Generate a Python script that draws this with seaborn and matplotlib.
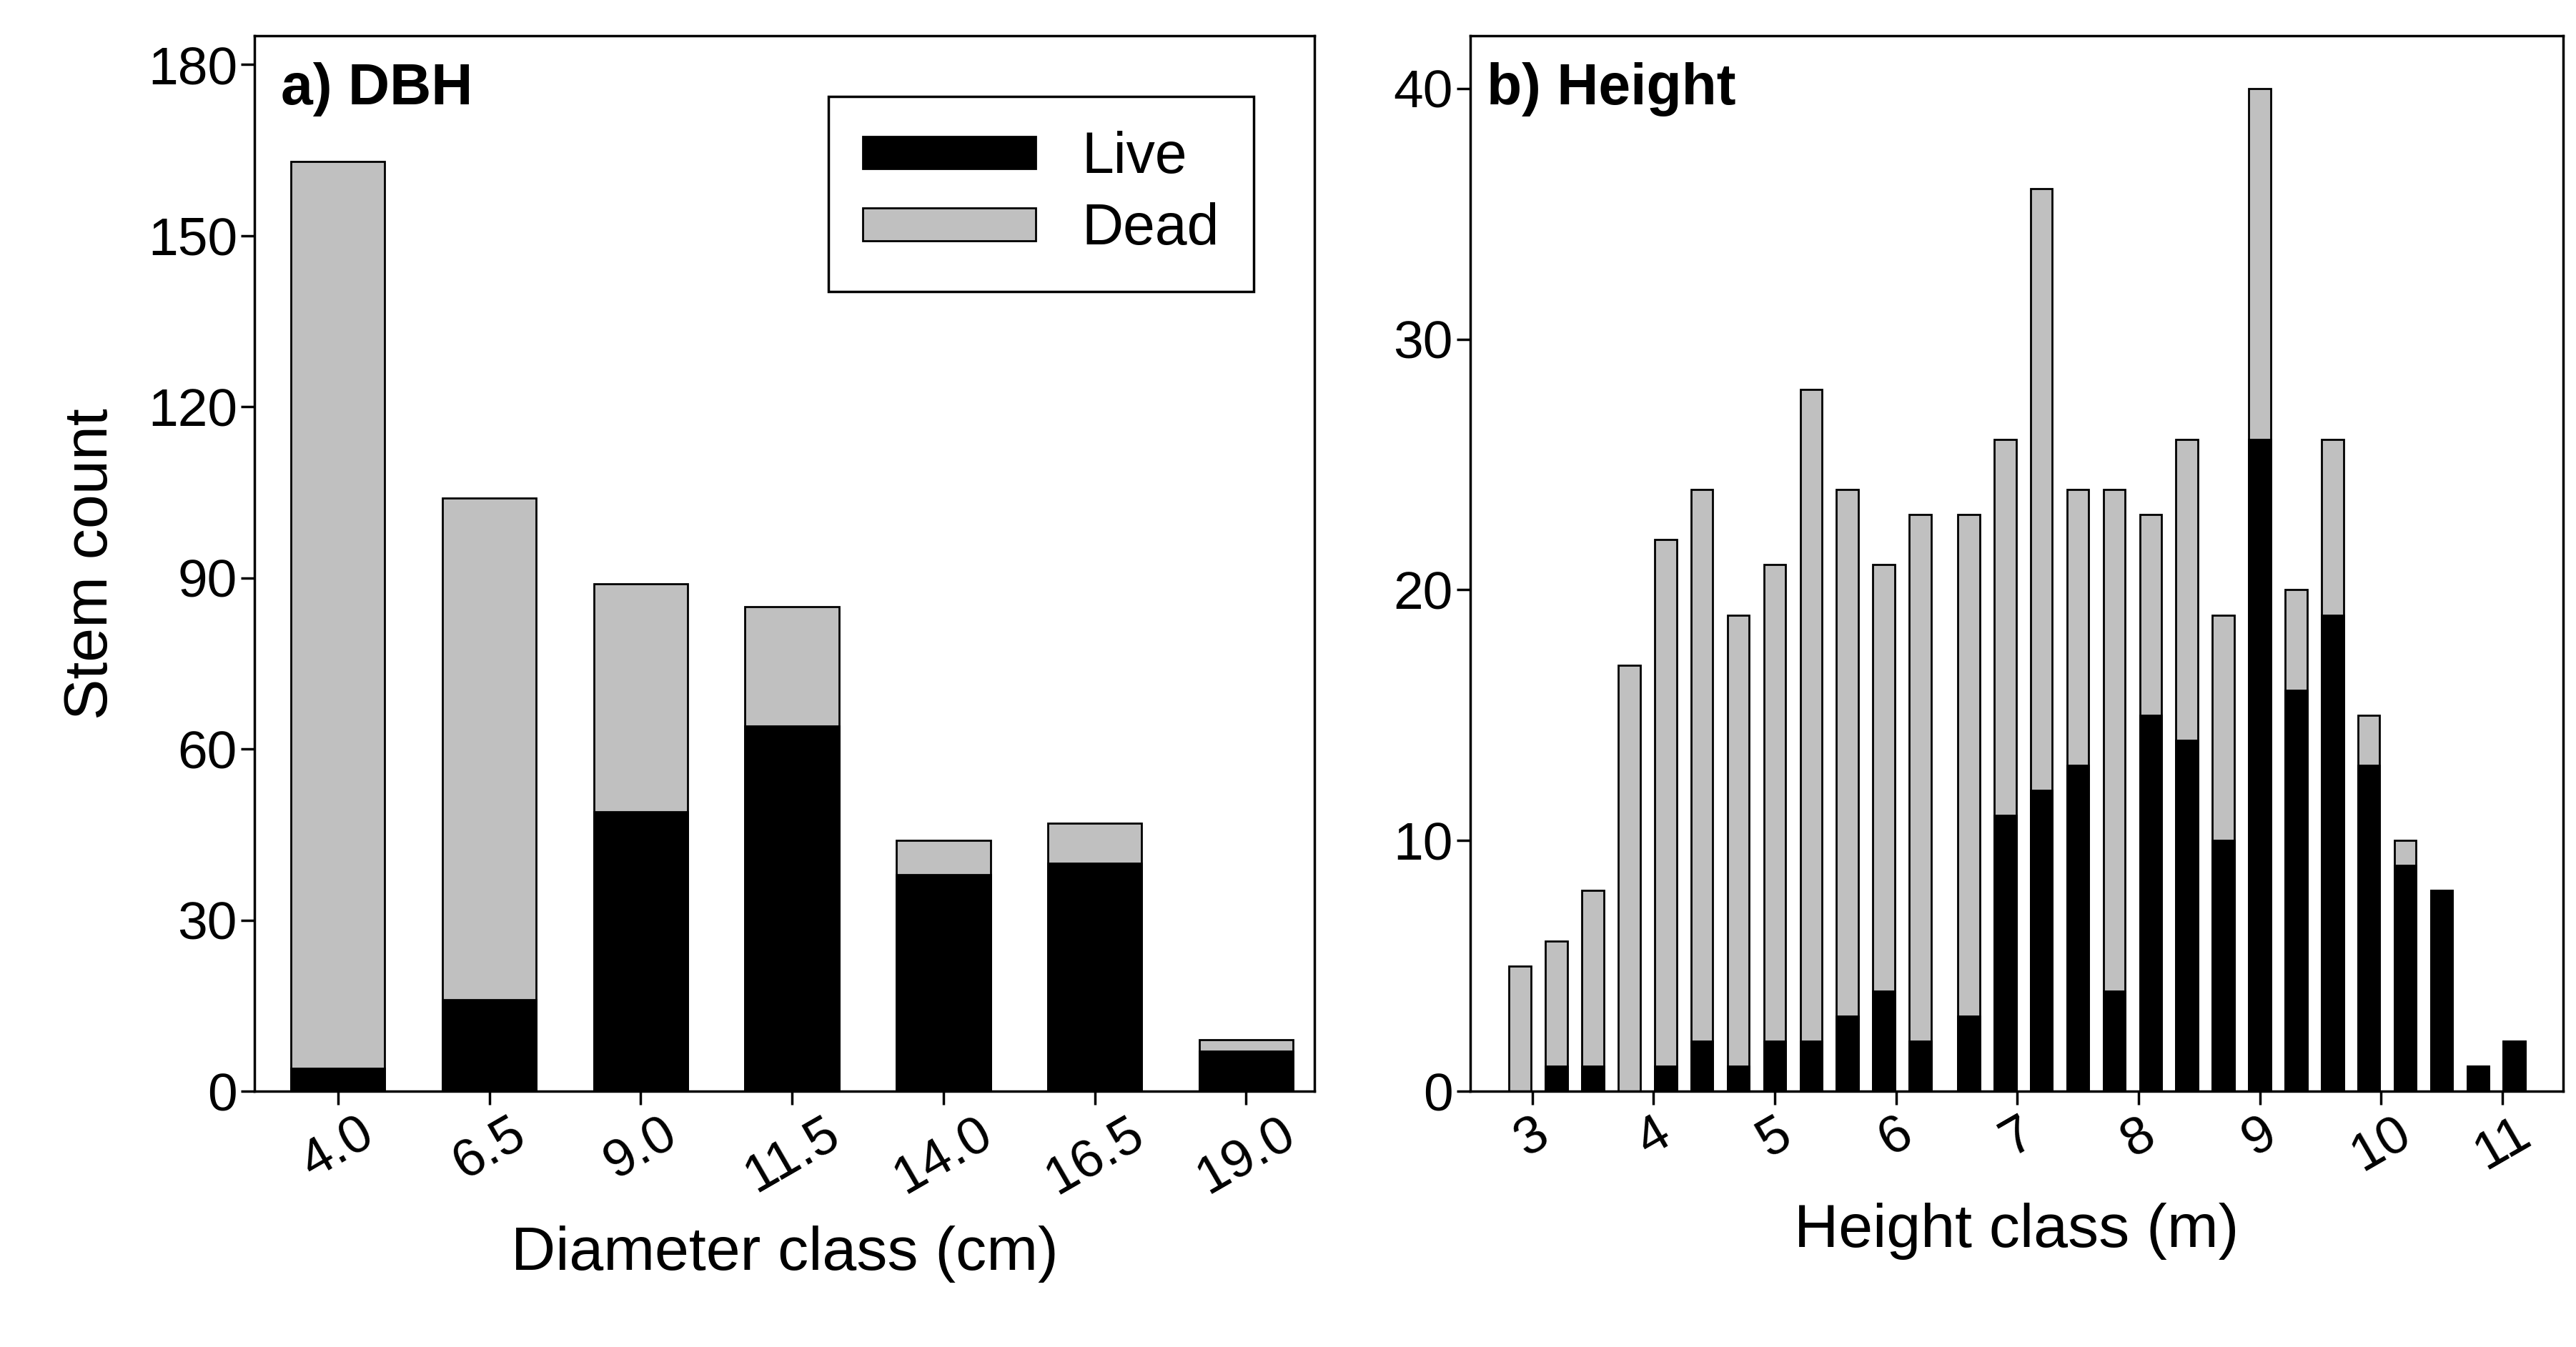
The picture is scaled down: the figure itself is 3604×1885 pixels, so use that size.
import matplotlib
matplotlib.use("Agg")
import matplotlib.pyplot as plt
import seaborn as sns
import pandas as pd

# panel a) DBH
dbh_class = ["4.0", "6.5", "9.0", "11.5", "14.0", "16.5", "19.0"]
dbh_total = [163, 104, 89, 85, 44, 47, 9]
dbh_live = [4, 16, 49, 64, 38, 40, 7]

# panel b) Height
ht_class = [2.9, 3.2, 3.5, 3.8, 4.1, 4.4, 4.7, 5.0, 5.3, 5.6, 5.9, 6.2, 6.6, 6.9,
            7.2, 7.5, 7.8, 8.1, 8.4, 8.7, 9.0, 9.3, 9.6, 9.9, 10.2, 10.5, 10.8, 11.1]
ht_total = [5, 6, 8, 17, 22, 24, 19, 21, 28, 24, 21, 23, 23, 26,
            36, 24, 24, 23, 26, 19, 40, 20, 26, 15, 10, 8, 1, 2]
ht_live = [0, 1, 1, 0, 1, 2, 1, 2, 2, 3, 4, 2, 3, 11,
           12, 13, 4, 15, 14, 10, 26, 16, 19, 13, 9, 8, 1, 2]

sns.set_theme(style="ticks")
plt.rcParams['font.family'] = ['Liberation Sans', 'DejaVu Sans']
plt.rcParams['text.color'] = 'black'
plt.rcParams['axes.labelcolor'] = 'black'
plt.rcParams['xtick.color'] = 'black'
plt.rcParams['ytick.color'] = 'black'
DEAD = "#c0c0c0"

fig = plt.figure(figsize=(36.04, 18.85), dpi=100)
ax1 = fig.add_axes([155/1568, 1 - 670/827, 645/1568, 648/827])
ax2 = fig.add_axes([895/1568, 1 - 670/827, 665/1568, 648/827])

df_a = pd.DataFrame({"cls": dbh_class, "total": dbh_total, "live": dbh_live})
sns.barplot(df_a, x="cls", y="total", ax=ax1, color=DEAD, edgecolor="black",
            linewidth=2, width=0.62, saturation=1, label="Dead")
sns.barplot(df_a, x="cls", y="live", ax=ax1, color="black", edgecolor="black",
            linewidth=2, width=0.62, saturation=1, label="Live")
ax1.set_ylim(0, 185)
ax1.set_xlim(-0.55, 6.45)
ax1.set_yticks(range(0, 181, 30))
ax1.set_xlabel("Diameter class (cm)", fontsize=62, labelpad=22)
ax1.set_ylabel("Stem count", fontsize=62, labelpad=28)
ax1.text(0.025, 0.975, "a) DBH", transform=ax1.transAxes, fontsize=58,
         fontweight="bold", va="top")
h, l = ax1.get_legend_handles_labels()
ax1.legend(h[::-1], l[::-1], loc="upper right", bbox_to_anchor=(0.97, 0.97),
           fontsize=58, fancybox=False, edgecolor="black", framealpha=1,
           handlelength=3.0, handleheight=0.5, borderpad=0.6, labelspacing=0.3)
ax1.get_legend().get_frame().set_linewidth(2.5)

ax2.bar(ht_class, ht_total, width=0.18, color=DEAD, edgecolor="black", linewidth=2)
ax2.bar(ht_class, ht_live, width=0.18, color="black", edgecolor="black", linewidth=2)
ax2.set_xlim(2.49, 11.5)
ax2.set_ylim(0, 42.1)
ax2.set_xticks(range(3, 12))
ax2.set_yticks(range(0, 41, 10))
ax2.set_xlabel("Height class (m)", fontsize=62, labelpad=22)
ax2.set_ylabel("")
ax2.text(0.015, 0.975, "b) Height", transform=ax2.transAxes, fontsize=58,
         fontweight="bold", va="top")

for ax in (ax1, ax2):
    for s in ax.spines.values():
        s.set_visible(True)
        s.set_linewidth(2.5)
        s.set_color("black")
    ax.tick_params(axis="both", labelsize=54, length=14, width=2.5, direction="out")
    for t in ax.get_xticklabels():
        t.set_rotation(30)
        t.set_ha("center")

fig.savefig("out.png", dpi=100, facecolor="white")
